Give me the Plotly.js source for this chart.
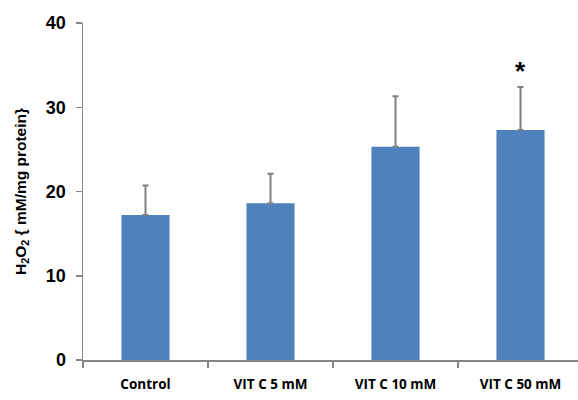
<!DOCTYPE html>
<html>
<head>
<meta charset="utf-8">
<script src="https://cdn.plot.ly/plotly-3.0.1.min.js"></script>
<style>html,body{margin:0;padding:0;background:#fff;}#chart{width:578px;height:400px;}</style>
</head>
<body>
<div id="chart"></div>
<script>
var categories = ["Control", "VIT C 5 mM", "VIT C 10 mM", "VIT C 50 mM"];
var meanValues = [17.2, 18.6, 25.3, 27.3];
var errorPlus = [3.5, 3.5, 6.0, 5.1];
var significance = ["", "", "", "*"];
var yTickValues = [0, 10, 20, 30, 40];

var trace = {
  type: "bar",
  x: categories,
  y: meanValues,
  width: 0.385,
  marker: {color: "#4F81BD"},
  error_y: {type: "data", symmetric: false, array: errorPlus, arrayminus: [0,0,0,0], color: "#7F7F7F", thickness: 2, width: 3}
};

var annotations = [];
categories.forEach(function(c, i) {
  if (significance[i]) {
    annotations.push({x: c, y: meanValues[i] + errorPlus[i], yshift: 16, text: "<b>" + significance[i] + "</b>", showarrow: false,
      font: {family: "Liberation Sans, Arial, sans-serif", size: 26, color: "#000"}});
  }
});

var layout = {
  width: 578, height: 400,
  margin: {l: 83, r: 0, t: 23, b: 40},
  paper_bgcolor: "#fff", plot_bgcolor: "#fff",
  showlegend: false,
  bargap: 0.6,
  xaxis: {
    range: [-0.5, 3.46],
    showline: true, linecolor: "#868686", linewidth: 1.5,
    ticks: "outside", tickson: "boundaries", ticklen: 6, tickcolor: "#868686", tickwidth: 1.5,
    ticklabelstandoff: 11,
    showgrid: false, zeroline: false,
    tickfont: {family: "Open Sans, Liberation Sans, sans-serif", size: 13.5, color: "#000", weight: "bold"},
    fixedrange: true
  },
  yaxis: {
    range: [0, 40],
    tickvals: yTickValues,
    showline: true, linecolor: "#868686", linewidth: 1.5,
    ticks: "outside", ticklen: 6, tickcolor: "#868686", tickwidth: 1.5,
    ticklabelstandoff: 6,
    showgrid: false, zeroline: false,
    tickfont: {family: "Liberation Sans, Arial, sans-serif", size: 18, color: "#000", weight: "bold"},
    title: {text: "<b>H<sub>2</sub>O<sub>2</sub> { mM/mg protein}</b>", standoff: 15,
      font: {family: "Liberation Sans, Arial, sans-serif", size: 15.5, color: "#000"}},
    fixedrange: true
  },
  annotations: annotations
};

Plotly.newPlot("chart", [trace], layout, {displayModeBar: false, staticPlot: true});
</script>
</body>
</html>
